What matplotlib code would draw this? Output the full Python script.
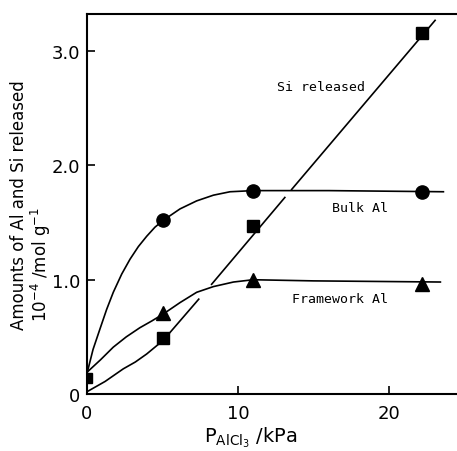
import matplotlib
matplotlib.use("Agg")
import matplotlib.pyplot as plt
import numpy as np

# ---- data ----
p_meas = [5.0, 11.0, 22.2]
si_released = [0.49, 1.47, 3.16]
bulk_al = [1.52, 1.78, 1.77]
framework_al = [0.71, 1.00, 0.96]
p0 = [0.0]
start_val = [0.14]

# drawn guide curves
bulk_curve_x = [0, 0.4, 0.86, 1.3, 1.74, 2.3, 2.85, 3.4, 3.95, 4.5, 5.05, 6.16, 7.26, 8.37, 9.47, 11, 16, 23.6]
bulk_curve_y = [0.18, 0.39, 0.57, 0.74, 0.89, 1.05, 1.18, 1.29, 1.38, 1.46, 1.52, 1.62, 1.69, 1.74, 1.77, 1.78, 1.78, 1.77]
fw_curve_x = [0, 0.9, 1.74, 2.6, 3.5, 4.3, 5.05, 6.16, 7.26, 8.37, 9.7, 11, 15, 23.4]
fw_curve_y = [0.19, 0.30, 0.41, 0.50, 0.58, 0.64, 0.70, 0.80, 0.89, 0.94, 0.98, 1.00, 0.99, 0.98]
si_curve_x = [0, 1.2, 2.4, 3.2, 3.95, 4.5, 5.05, 7.4, np.nan, 8.25, 13.1, np.nan, 13.55, 23.05]
si_curve_y = [0.02, 0.11, 0.22, 0.28, 0.35, 0.41, 0.47, 0.83, np.nan, 0.96, 1.72, np.nan, 1.79, 3.27]

xticks = [0, 10, 20]
xticklabels = ["0", "10", "20"]
yticks = [0, 1.0, 2.0, 3.0]
yticklabels = ["0", "1.0", "2.0", "3.0"]

W, H = 457, 452
fig = plt.figure(figsize=(W / 100, H / 100), dpi=100)
ax = fig.add_axes([87 / W, 1 - 395 / H, 1 - 87 / W, (395 - 14.5) / H])
ax.set_xlim(0, 24.5)
ax.set_ylim(0, 3.33)

lw = 1.2
ax.plot(bulk_curve_x, bulk_curve_y, color='black', lw=lw)
ax.plot(fw_curve_x, fw_curve_y, color='black', lw=lw)
ax.plot(si_curve_x, si_curve_y, color='black', lw=lw)

ax.plot(p_meas, bulk_al, 'o', color='black', ms=9.5)
ax.plot(p_meas, framework_al, '^', color='black', ms=9.5)
ax.plot(p_meas, si_released, 's', color='black', ms=9)
ax.plot(p0, start_val, 's', color='black', ms=7)

mono = 'DejaVu Sans Mono'
ax.text(12.6, 2.69, "Si released", family=mono, fontsize=9.5, va='center', ha='left')
ax.text(16.2, 1.63, "Bulk Al", family=mono, fontsize=9.5, va='center', ha='left')
ax.text(13.6, 0.84, "Framework Al", family=mono, fontsize=9.5, va='center', ha='left')

ax.spines['right'].set_visible(False)
for s in ['left', 'bottom', 'top']:
    ax.spines[s].set_linewidth(1.5)
ax.set_xticks(xticks)
ax.set_xticklabels(xticklabels, fontsize=13)
ax.set_yticks(yticks)
ax.set_yticklabels(yticklabels, fontsize=13)
ax.tick_params(axis='x', direction='in', length=6, width=1.2, pad=7)
ax.tick_params(axis='y', direction='in', length=6, width=1.2, pad=5)

fig.text(19 / W, 1 - 330 / H, "Amounts of Al and Si released", rotation=90,
         ha='center', va='bottom', fontsize=12)
fig.text(41 / W, 1 - 322 / H, r"10$^{-4}$ /mol g$^{-1}$", rotation=90,
         ha='center', va='bottom', fontsize=12)
fig.text(251 / W, 1 - 438 / H, r"P$_{\mathrm{AlCl_3}}$ /kPa", ha='center', va='center', fontsize=14)

fig.savefig("out.png", dpi=100)
